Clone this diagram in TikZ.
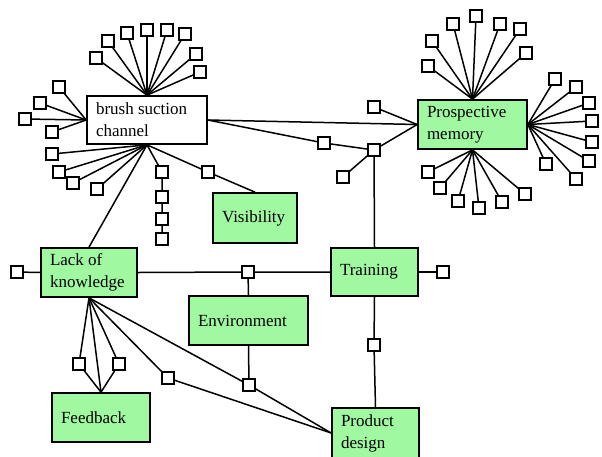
\documentclass[tikz,border=0pt]{standalone}
\usepackage{fontspec}
\setmainfont{Liberation Serif}
\definecolor{boxgreen}{RGB}{160,248,160}
\begin{document}
\begin{tikzpicture}[x=1pt,y=-1pt,
  box/.style={draw, line width=1.7pt, fill=boxgreen, inner xsep=9pt, inner ysep=0pt,
              align=flush left, font=\fontsize{17}{22}\selectfont},
  sq/.style={draw, fill=white, line width=1.6pt, minimum size=11.5pt, inner sep=0pt},
  link/.style={line width=1.5pt}]
\useasboundingbox (0,0) rectangle (602,456);

% main boxes
\node[box, fill=white, text width=102pt, minimum height=48pt] (bsc) at (147,120) {brush suction\\channel};
\node[box, text width=91pt, minimum height=49pt] (pm) at (472.5,124.5) {Prospective\\memory};
\node[box, text width=66pt, minimum height=50pt] (vis) at (255,218) {Visibility};
\node[box, text width=78pt, minimum height=49pt] (lok) at (89,272.5) {Lack of\\knowledge};
\node[box, text width=69pt, minimum height=48pt] (trn) at (374.5,272) {Training};
\node[box, text width=101pt, minimum height=49pt] (env) at (248.5,320.5) {Environment};
\node[box, text width=80pt, minimum height=49pt] (fb) at (101,417.5) {Feedback};
\node[box, text width=69pt, minimum height=50pt] (pd) at (375.5,433) {Product\\design};

% fans of leaf squares around brush suction channel
\foreach \p [count=\i] in {(96,58),(108,41),(127,33),(147,30),(167,30),(185,34),(196,54),(200,72)}
  {\node[sq] (bt\i) at \p {}; \draw[link] (bsc.north) -- (bt\i);}
\foreach \p [count=\i] in {(59,87),(40,103),(25,119),(52,132)}
  {\node[sq] (bl\i) at \p {}; \draw[link] (bsc.west) -- (bl\i);}
\foreach \p [count=\i] in {(52,154),(59,172),(73,183),(97,189)}
  {\node[sq] (bb\i) at \p {}; \draw[link] (bsc.south) -- (bb\i);}

% chain below brush suction channel
\node[sq] (c1) at (162,172) {};
\node[sq] (c2) at (162,197) {};
\node[sq] (c3) at (162,219) {};
\node[sq] (c4) at (162,239) {};
\draw[link] (bsc.south) -- (c1) -- (c2) -- (c3) -- (c4);

% brush suction channel to visibility
\node[sq] (v1) at (208,172) {};
\draw[link] (bsc.south) -- (v1) -- (vis.north);

% fans of leaf squares around prospective memory
\foreach \p [count=\i] in {(428,66),(432,41),(453,24),(476,16),(500,24),(520,29),(526,53)}
  {\node[sq] (pt\i) at \p {}; \draw[link] (pm.north) -- (pt\i);}
\foreach \p [count=\i] in {(555,79),(576,87),(589,103),(592,121),(592,142),(589,161),(576,179),(546,164)}
  {\node[sq] (pr\i) at \p {}; \draw[link] (pm.east) -- (pr\i);}
\foreach \p [count=\i] in {(428,172),(440,188),(458,201),(479,208),(502,202),(525,194)}
  {\node[sq] (pb\i) at \p {}; \draw[link] (pm.south) -- (pb\i);}
\node[sq] (pl1) at (374,107) {};
\draw[link] (pm.west) -- (pl1);

% links between brush suction channel, prospective memory and training
\node[sq] (q1) at (324,143) {};
\node[sq] (j) at (374,150) {};
\node[sq] (jl) at (343,177) {};
\draw[link] (bsc.east) -- (pm.west);
\draw[link] (bsc.east) -- (q1) -- (j);
\draw[link] (j) -- (pm.west);
\draw[link] (j) -- (jl);
\draw[link] (j) -- (trn.north);

% brush suction channel to lack of knowledge
\draw[link] (bsc.south) -- (lok.north);

% lack of knowledge, training, environment
\node[sq] (lw) at (17,272) {};
\draw[link] (lok.west) -- (lw);
\node[sq] (m1) at (248,272) {};
\draw[link] (lok.east) -- (m1) -- (trn.west);
\draw[link] (m1) -- (env.north);
\node[sq] (te) at (443,272) {};
\draw[link] (trn.east) -- (te);
\node[sq] (ts) at (374,345) {};
\draw[link] (trn.south) -- (ts) -- (pd.north);

% environment to product design
\node[sq] (e1) at (249,385) {};
\draw[link] (env.south) -- (e1);
\draw[link] (lok.south) -- (e1) -- (pd.west);
\node[sq] (k1) at (168,378) {};
\draw[link] (lok.south) -- (k1) -- (pd.west);

% lack of knowledge to feedback
\node[sq] (f1) at (79,364) {};
\node[sq] (f2) at (119,364) {};
\draw[link] (lok.south) -- (f1) -- (fb.north);
\draw[link] (lok.south) -- (f2) -- (fb.north);
\draw[link] (lok.south) -- (fb.north);
\end{tikzpicture}
\end{document}
